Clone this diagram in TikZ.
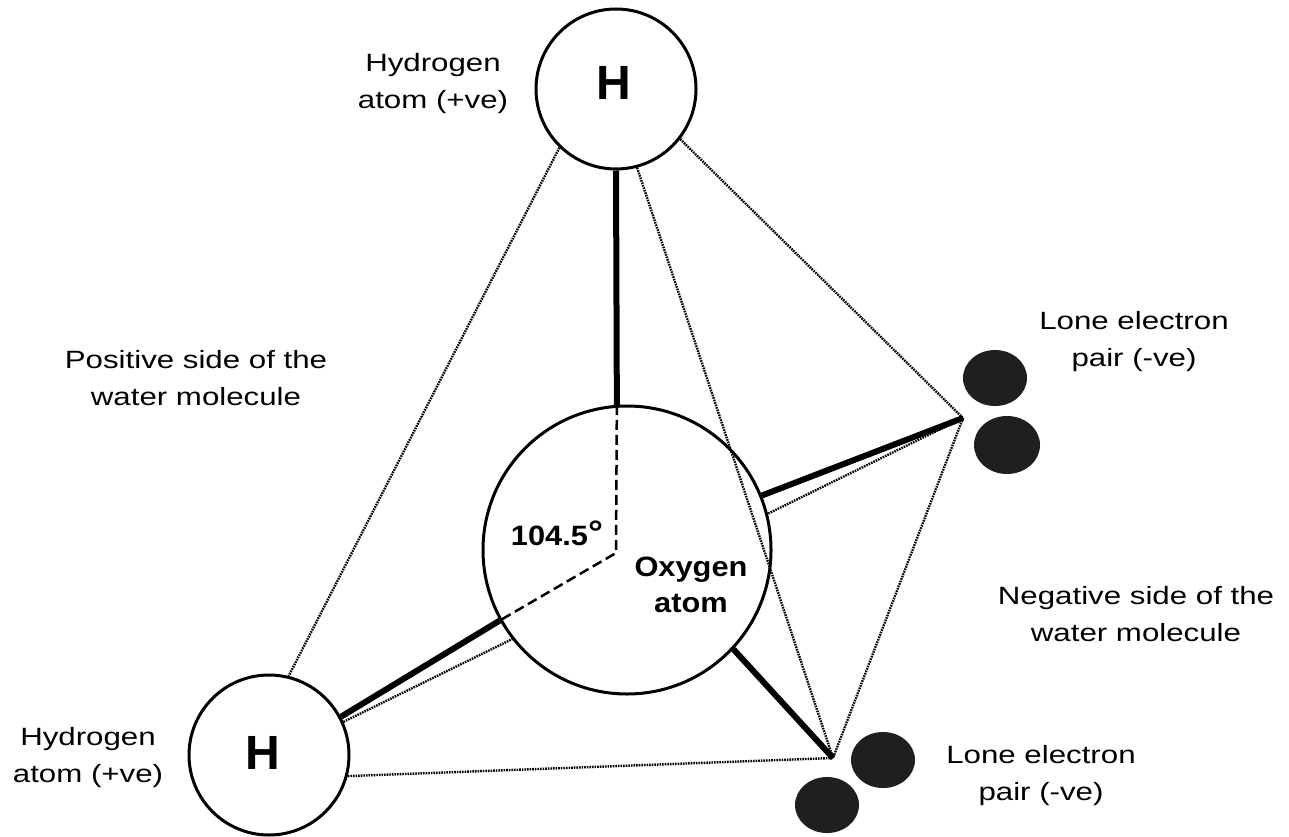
\documentclass[tikz,border=0pt]{standalone}
\usepackage{fontspec}
\setmainfont{Liberation Sans}
\newfontfamily\lblfont[FakeStretch=1.25]{Liberation Sans}
\newfontfamily\bldfont[FakeStretch=1.1]{Liberation Sans}
\usetikzlibrary{shapes.geometric}

\tikzset{
  atom/.style={circle, draw, line width=3pt, fill=white, minimum size=160pt, inner sep=0pt},
  oxatom/.style={atom, minimum size=288pt},
  electron/.style={ellipse, fill=black!88, minimum width=64pt, minimum height=56pt, inner sep=0pt},
  bond/.style={line width=6pt},
  tetraedge/.style={line width=2.4pt, dash pattern=on 1.6pt off 1.0pt, black},
  hiddenbond/.style={line width=2.5pt, dash pattern=on 10pt off 5pt},
  lbl/.style={font=\lblfont\fontsize{25}{37}\selectfont, align=center, inner sep=0pt},
  blbl/.style={font=\bldfont\bfseries\fontsize{28}{36}\selectfont, align=center, inner sep=0pt},
  hlbl/.style={font=\bfseries\fontsize{48}{50}\selectfont, inner sep=0pt}
}

\begin{document}
\begin{tikzpicture}[x=1pt, y=-1pt]
  \fill[white] (0,0) rectangle (1289,837);
  \useasboundingbox (0,0) rectangle (1289,837);

  % hydrogen atoms
  \node[atom] (Htop) at (616,89) {};
  \node[atom] (Hbl) at (269,755) {};

  % tips of the two lone-pair directions and the bond-angle vertex
  \coordinate (RT) at (963,418);
  \coordinate (BT) at (833,758);
  \coordinate (V) at (616,553);

  % tetrahedron edge hidden behind the oxygen atom
  \draw[tetraedge] (Hbl.24) -- (RT);

  % oxygen atom
  \node[oxatom] (O) at (627,550) {};

  % projected bond angle inside the oxygen atom
  \draw[hiddenbond] (O.94.4) -- (V) -- (O.209.9);

  % covalent bonds and lone-pair directions
  \draw[bond] (Htop.south) -- (O.94.4);
  \draw[bond] (Hbl.28.8) -- (O.209.9);
  \draw[bond] (O.22) -- (RT);
  \draw[bond] (O.-43) -- (BT);

  % remaining tetrahedron edges
  \draw[tetraedge] (Htop.226.9) -- (Hbl.76);
  \draw[tetraedge] (Htop.-75) -- (BT);
  \draw[tetraedge] (Htop.-38) -- (RT);
  \draw[tetraedge] (Hbl.-15) -- (BT);
  \draw[tetraedge] (RT) -- (BT);

  % lone electron pairs
  \node[electron] (eR1) at (995,378) {};
  \node[electron, minimum width=66pt, minimum height=58pt] (eR2) at (1007,445) {};
  \node[electron] (eB1) at (883,760) {};
  \node[electron] (eB2) at (827,805) {};

  % atom symbols
  \node[hlbl] (hsym1) at (614,83) {H};
  \node[hlbl] (hsym2) at (263,753) {H};

  % labels
  \node[blbl] (angtxt) at (557,533) {104.5\raisebox{1pt}{\fontsize{34}{36}\selectfont°}};
  \node[blbl] (oxtxt) at (691,585) {Oxygen\\atom};
  \node[lbl] (lHtop) at (433,84) {Hydrogen\\atom (+ve)};
  \node[lbl] (lHbl) at (88,758) {Hydrogen\\atom (+ve)};
  \node[lbl] (lpos) at (196,378) {Positive side of the\\water molecule};
  \node[lbl] (lneg) at (1136,614) {Negative side of the\\water molecule};
  \node[lbl] (lLR) at (1134,342) {Lone electron\\pair (-ve)};
  \node[lbl] (lLB) at (1041,776) {Lone electron\\pair (-ve)};
\end{tikzpicture}
\end{document}
